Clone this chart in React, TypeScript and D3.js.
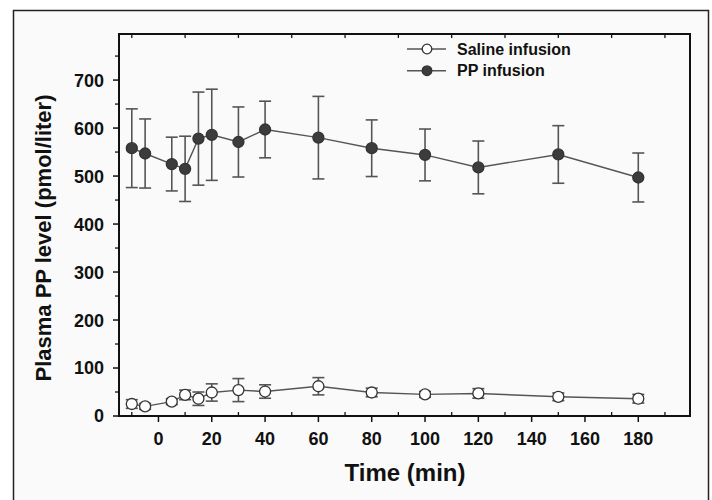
import React from "react";
import * as d3 from "d3";

const times = [-10, -5, 5, 10, 15, 20, 30, 40, 60, 80, 100, 120, 150, 180];
const ppMean = [558, 547, 525, 515, 578, 586, 571, 597, 580, 558, 544, 518, 545, 497];
const ppErr = [82, 72, 56, 68, 97, 95, 73, 59, 86, 59, 54, 55, 60, 51];
const salineMean = [25, 20, 30, 44, 36, 49, 54, 51, 62, 49, 45, 47, 40, 36];
const salineErr = [9, 6, 6, 10, 14, 18, 24, 14, 18, 9, 6, 10, 8, 9];
const yTicks = [0, 100, 200, 300, 400, 500, 600, 700];
const xTicks = [0, 20, 40, 60, 80, 100, 120, 140, 160, 180];
const seriesNames = ["Saline infusion", "PP infusion"];

const W = 712;
const H = 500;
const L = 119, R = 690, T = 34, B = 416;
const FONT = "'Liberation Sans', Arial, sans-serif";

export default function App() {
  const x = d3.scaleLinear().domain([-14.8, 199.4]).range([L, R]);
  const y = d3.scaleLinear().domain([0, 796]).range([B, T]);
  const line = d3
    .line<[number, number]>()
    .x((d) => x(d[0]))
    .y((d) => y(d[1]));

  const minorX = d3.range(-10, 200, 20);
  const minorY = d3.range(50, 800, 100);

  const lineColor = "#555";
  const series = [
    { name: seriesNames[0], mean: salineMean, err: salineErr, fill: "#ffffff" },
    { name: seriesNames[1], mean: ppMean, err: ppErr, fill: "#3c3c3c" },
  ];

  return (
    <svg
      width={W}
      height={H}
      style={{ position: "absolute", left: 0, top: 0, background: "#fff" }}
    >
      <rect x={13.5} y={10.5} width={695} height={500} fill="#fafafa" stroke="#222" strokeWidth={1.5} />

      {series.map((s, si) => (
        <g key={si}>
          <path
            d={line(times.map((t, i) => [t, s.mean[i]]) as [number, number][]) || ""}
            fill="none"
            stroke={lineColor}
            strokeWidth={1.4}
          />
          {times.map((t, i) => {
            const cx = x(t);
            const y1 = y(s.mean[i] + s.err[i]);
            const y2 = y(s.mean[i] - s.err[i]);
            return (
              <g key={i} stroke={lineColor} strokeWidth={1.6}>
                <line x1={cx} x2={cx} y1={y1} y2={y2} />
                <line x1={cx - 6} x2={cx + 6} y1={y1} y2={y1} />
                <line x1={cx - 6} x2={cx + 6} y1={y2} y2={y2} />
              </g>
            );
          })}
          {times.map((t, i) => (
            <circle
              key={"c" + i}
              cx={x(t)}
              cy={y(s.mean[i])}
              r={5.5}
              fill={s.fill}
              stroke="#333"
              strokeWidth={1.3}
            />
          ))}
        </g>
      ))}

      <rect x={L} y={T} width={R - L} height={B - T} fill="none" stroke="#111" strokeWidth={2} />

      {yTicks.map((v) => (
        <g key={"yt" + v}>
          <line x1={L - 6} x2={L} y1={y(v)} y2={y(v)} stroke="#111" strokeWidth={1.5} />
          <text
            x={L - 15}
            y={y(v)}
            dy="0.36em"
            textAnchor="end"
            fontFamily={FONT}
            fontWeight="bold"
            fontSize={18}
            fill="#111"
          >
            {v}
          </text>
        </g>
      ))}
      {minorY.map((v) => (
        <line key={"ym" + v} x1={L - 4} x2={L} y1={y(v)} y2={y(v)} stroke="#111" strokeWidth={1.3} />
      ))}

      {xTicks.map((v) => (
        <g key={"xt" + v}>
          <line x1={x(v)} x2={x(v)} y1={B} y2={B + 6} stroke="#111" strokeWidth={1.5} />
          <text
            x={x(v)}
            y={439}
            dy="0.36em"
            textAnchor="middle"
            fontFamily={FONT}
            fontWeight="bold"
            fontSize={18}
            fill="#111"
          >
            {v}
          </text>
        </g>
      ))}
      {minorX.map((v) => (
        <g key={"xm" + v}>
          <line x1={x(v)} x2={x(v)} y1={B - 4} y2={B} stroke="#111" strokeWidth={1.3} />
          <line x1={x(v)} x2={x(v)} y1={T} y2={T + 4} stroke="#111" strokeWidth={1.3} />
        </g>
      ))}

      <text
        x={405}
        y={472}
        dy="0.36em"
        textAnchor="middle"
        fontFamily={FONT}
        fontWeight="bold"
        fontSize={24}
        fill="#111"
      >
        Time (min)
      </text>
      <text
        transform={`translate(43,238) rotate(-90)`}
        dy="0.36em"
        textAnchor="middle"
        fontFamily={FONT}
        fontWeight="bold"
        fontSize={22}
        fill="#111"
      >
        Plasma PP level (pmol/liter)
      </text>

      {series.map((s, i) => {
        const ly = 49 + i * 21.7;
        return (
          <g key={"lg" + i}>
            <line x1={407} x2={446} y1={ly} y2={ly} stroke={lineColor} strokeWidth={1.4} />
            <circle cx={427} cy={ly} r={4.8} fill={s.fill} stroke="#333" strokeWidth={1.3} />
            <text
              x={457}
              y={ly}
              dy="0.36em"
              fontFamily={FONT}
              fontWeight="bold"
              fontSize={16}
              fill="#111"
            >
              {s.name}
            </text>
          </g>
        );
      })}
    </svg>
  );
}
